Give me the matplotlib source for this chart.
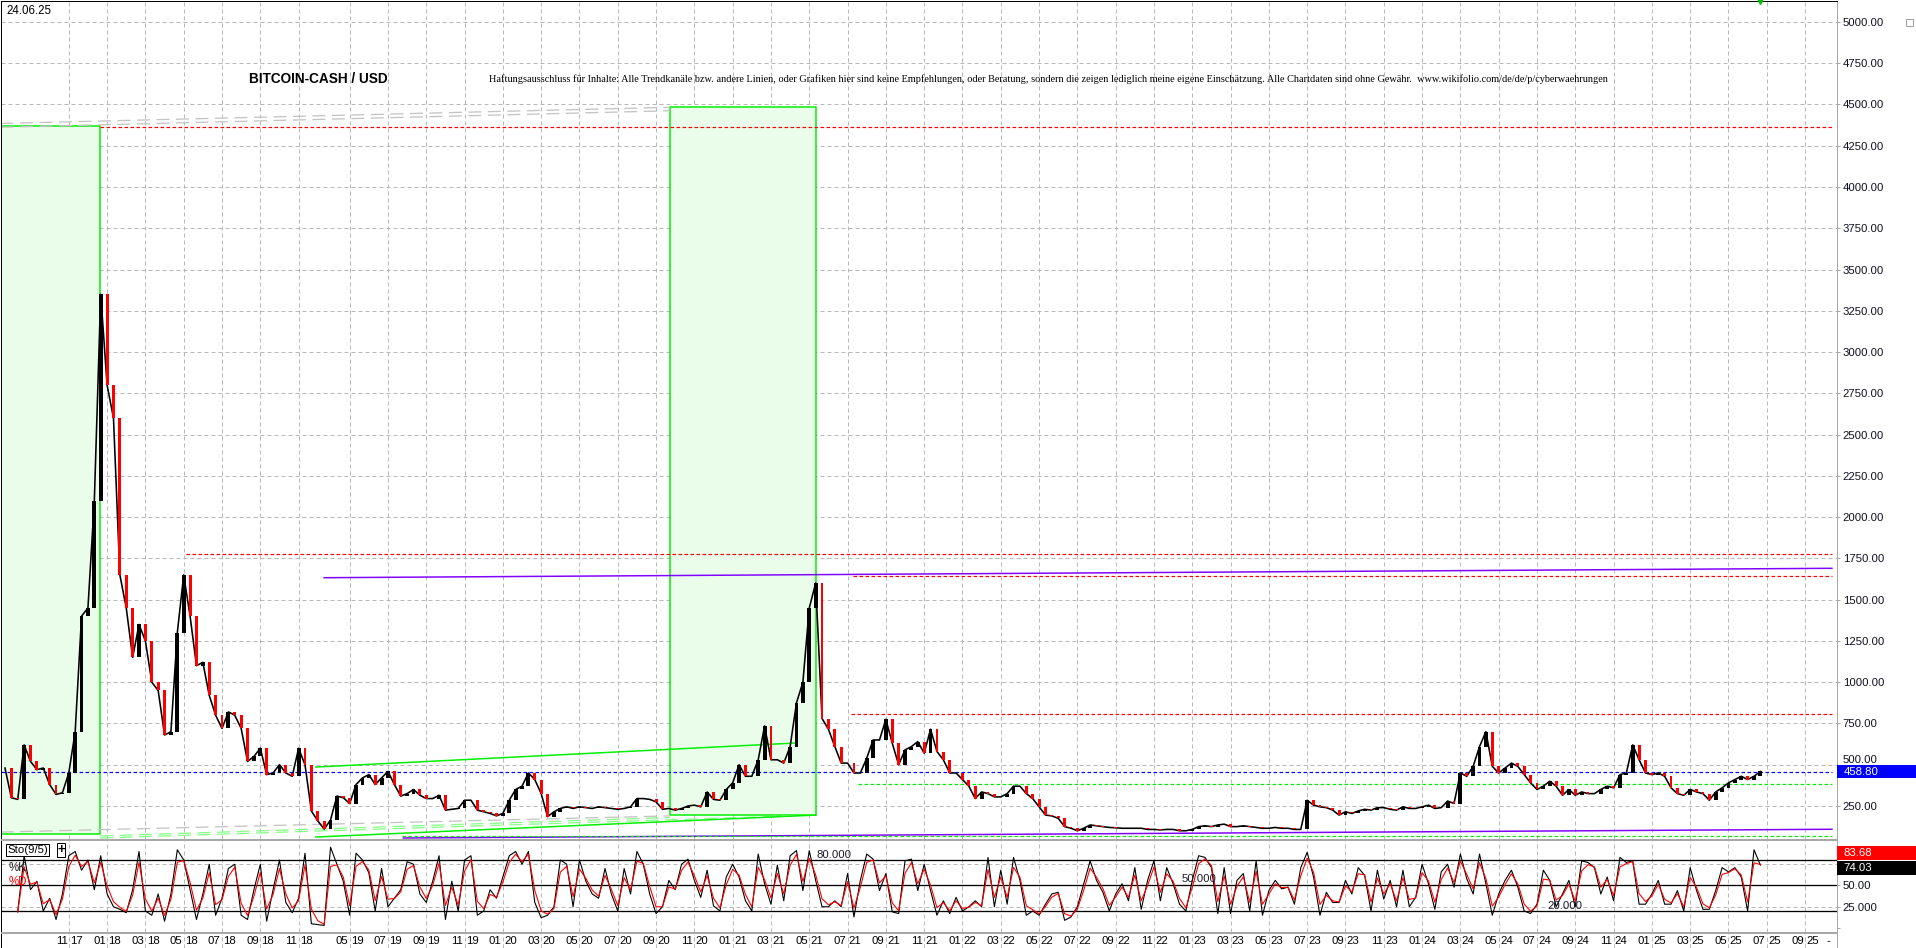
import matplotlib
matplotlib.use('Agg')
import matplotlib.pyplot as plt
import matplotlib.transforms as mtransforms
from matplotlib.patches import Rectangle
import numpy as np
import pandas as pd

plt.rcParams['font.family'] = ['Liberation Sans', 'DejaVu Sans']

# ---- data (one value per bar) ----
close = [
    480, 300, 290, 620, 520, 470, 480, 380, 320, 330,
    450, 700, 1400, 1450, 2100, 3350, 2800, 2600, 1650, 1450,
    1150, 1350, 1250, 1000, 950, 680, 700, 1300, 1650, 1400,
    1100, 1120, 920, 800, 720, 820, 800, 720, 520, 550,
    600, 440, 450, 500, 450, 430, 600, 500, 220, 160,
    110, 165, 310, 300, 265, 380, 420, 440, 380, 420,
    460, 380, 310, 325, 350, 315, 295, 295, 315, 225,
    230, 235, 285, 285, 225, 215, 205, 190, 205, 285,
    350, 370, 450, 410, 325, 185, 215, 235, 245, 235,
    245, 240, 235, 245, 240, 235, 230, 235, 245, 295,
    295, 290, 275, 230, 235, 225, 235, 250, 255, 245,
    335, 290, 285, 350, 390, 500, 430, 430, 530, 735,
    530, 530, 510, 610, 875, 1000, 1450, 1600, 780, 715,
    610, 510, 510, 450, 450, 540, 650, 650, 775, 630,
    500, 590, 610, 640, 570, 715, 580, 530, 450, 450,
    410, 370, 295, 335, 325, 305, 305, 325, 370, 370,
    325, 295, 245, 195, 190, 175, 125, 115, 100, 115,
    135, 130, 125, 120, 118, 115, 115, 115, 115, 108,
    108, 105, 108, 108, 100, 100, 108, 125, 130, 125,
    135, 140, 125, 125, 130, 125, 120, 115, 115, 120,
    115, 115, 108, 108, 285, 255, 245, 240, 225, 195,
    215, 205, 220, 230, 225, 240, 240, 230, 225, 245,
    235, 235, 245, 255, 235, 240, 280, 265, 450, 430,
    490, 610, 700, 490, 450, 480, 510, 490, 440, 390,
    350, 370, 400, 370, 315, 350, 315, 335, 325, 325,
    350, 370, 360, 440, 450, 620, 530, 450, 440, 450,
    430, 360, 325, 315, 350, 335, 325, 285, 335, 360,
    390, 410, 430, 410, 430, 459,
]

sto_k = [
    np.nan, np.nan, 19, 85, 45, 55, 20, 35, 10, 40,
    85, 90, 68, 80, 45, 85, 40, 25, 22, 18,
    45, 90, 20, 15, 40, 8, 40, 92, 80, 45,
    10, 40, 75, 15, 35, 70, 75, 15, 10, 45,
    75, 8, 45, 80, 30, 18, 35, 88, 5, 4,
    3, 95, 75, 55, 15, 88, 80, 65, 20, 70,
    25, 35, 45, 78, 75, 40, 30, 55, 85, 10,
    55, 20, 80, 85, 15, 20, 45, 35, 60, 85,
    90, 75, 90, 30, 12, 15, 25, 80, 75, 25,
    80, 55, 40, 35, 70, 40, 20, 70, 40, 90,
    75, 40, 17, 25, 56, 45, 75, 81, 56, 36,
    68, 26, 20, 60, 75, 60, 32, 20, 87, 52,
    28, 74, 32, 85, 91, 44, 91, 56, 25, 25,
    32, 25, 64, 13, 56, 87, 81, 44, 64, 19,
    17, 79, 81, 44, 75, 44, 15, 32, 17, 36,
    20, 25, 32, 25, 83, 25, 68, 28, 83, 56,
    15, 20, 15, 28, 40, 42, 9, 13, 25, 52,
    79, 56, 42, 20, 40, 52, 32, 71, 22, 56,
    79, 32, 71, 52, 28, 20, 56, 85, 83, 71,
    17, 71, 17, 56, 64, 20, 79, 15, 44, 56,
    46, 48, 28, 71, 89, 60, 15, 42, 30, 30,
    56, 40, 71, 62, 20, 68, 34, 56, 25, 68,
    25, 36, 75, 52, 22, 66, 75, 48, 87, 58,
    40, 87, 52, 15, 40, 56, 68, 48, 20, 17,
    28, 68, 56, 25, 40, 56, 25, 79, 77, 71,
    40, 60, 32, 83, 77, 79, 28, 28, 40, 56,
    28, 28, 44, 20, 71, 44, 22, 22, 44, 71,
    66, 71, 60, 20, 92, 74,
]

last_price = 458.80
last_k = 74.03
last_d = 83.68

tick_bar = [10, 16, 22, 28, 34, 40, 46,
            54, 60, 66, 72, 78, 84, 90, 96, 102, 108, 114, 120, 126, 132,
            138, 144, 150, 156, 162, 168, 174, 180, 186, 192, 198, 204, 210,
            216, 222, 228, 234, 240, 246, 252, 258, 264, 270, 276, 282]
tick_lbl = ['11|17', '01|18', '03|18', '05|18', '07|18', '09|18', '11|18',
            '05|19', '07|19', '09|19', '11|19', '01|20', '03|20', '05|20',
            '07|20', '09|20', '11|20', '01|21', '03|21', '05|21', '07|21',
            '09|21', '11|21', '01|22', '03|22', '05|22', '07|22', '09|22',
            '11|22', '01|23', '03|23', '05|23', '07|23', '09|23', '11|23',
            '01|24', '03|24', '05|24', '07|24', '09|24', '11|24', '01|25',
            '03|25', '05|25', '07|25', '09|25']

price_levels = np.arange(250, 5001, 250)

# drawn levels: (value, first bar, last bar)
red_lines = [(4362, 14.9, 286.2), (1777, 28.4, 286.2),
             (1645, 132.9, 286.2), (807, 132.5, 286.2)]
green_dotted = [(381, 133.6, 286.2), (68, 62.2, 286.2)]
# sloped lines: (bar0, v0, bar1, v1)
purple_lines = [(50.0, 1633, 286.2, 1690), (62.4, 56, 286.2, 109)]
green_channel = [(48.7, 486, 124.1, 632), (48.7, 62, 127.05, 195)]
gray_dashed = [(-0.7, 4385, 104.2, 4483), (-0.7, 4362, 104.2, 4462),
               (-0.7, 92, 104.2, 190)]
light_green_dashed = [(14.9, 56, 127.0, 195), (14.9, 68, 104.2, 180)]
# highlighted zones: (bar0, bar1, low, high)
zones = [(-0.7, 14.88, 80, 4370), (104.2, 127.05, 195, 4483)]

disclaimer = ('Haftungsausschluss für Inhalte: Alle Trendkanäle bzw. andere Linien, '
              'oder Grafiken hier sind keine Empfehlungen, oder Beratung, sondern die '
              'zeigen lediglich meine eigene Einschätzung. Alle Chartdaten sind ohne '
              'Gewähr.  www.wikifolio.com/de/de/p/cyberwaehrungen')

# ---- layout ----
W, H = 1916, 948
fig = plt.figure(figsize=(W / 100, H / 100), dpi=100)


def rect(x0, y0, x1, y1):
    return [x0 / W, 1 - y1 / H, (x1 - x0) / W, (y1 - y0) / H]


ax = fig.add_axes(rect(0.5, 0.5, 1837, 839))
sx = fig.add_axes(rect(0.5, 840, 1837, 932))
lx = fig.add_axes(rect(0.5, 933, 1837, 947.5))
XL = (-0.7, 287.0)
for a in (ax, sx, lx):
    a.set_xlim(*XL)
    a.set_xticks([])
    a.set_facecolor('white')
ax.set_ylim(50, 5130)
sx.set_ylim(-4.7, 103.5)
lx.set_ylim(0, 1)
lx.set_yticks([])

GRID = '#b8b8b8'
PX = 0.72  # one pixel in points

for a in (ax, sx, lx):
    for b in tick_bar:
        a.axvline(b, color=GRID, lw=PX, dashes=(4, 3), zorder=0)
for v in price_levels:
    ax.axhline(v, color=GRID, lw=PX, dashes=(4, 3), zorder=0)

# zones
for b0, b1, lo, hi in zones:
    ax.add_patch(Rectangle((b0, lo), b1 - b0, hi - lo, facecolor='#eafdea',
                           edgecolor='#00ee00', lw=1.5 * PX, zorder=1))

for b0, v0, b1, v1 in gray_dashed:
    ax.plot([b0, b1], [v0, v1], color='#c4c4c4', lw=1.3 * PX, dashes=(10, 5), zorder=2)
for b0, v0, b1, v1 in light_green_dashed:
    ax.plot([b0, b1], [v0, v1], color='#8cff8c', lw=1.3 * PX, dashes=(10, 5), zorder=2)
for b0, v0, b1, v1 in green_channel:
    ax.plot([b0, b1], [v0, v1], color='#00ee00', lw=1.5 * PX, zorder=3)
for b0, v0, b1, v1 in purple_lines:
    ax.plot([b0, b1], [v0, v1], color='#8000ff', lw=1.5 * PX, zorder=3)
for v, b0, b1 in red_lines:
    ax.plot([b0, b1], [v, v], color='#ff0000', lw=1.2 * PX, dashes=(3, 2), zorder=3)
for v, b0, b1 in green_dotted:
    ax.plot([b0, b1], [v, v], color='#00ee00', lw=1.2 * PX, dashes=(3, 2), zorder=3)
ax.plot([XL[0], 286.2], [last_price, last_price], color='#0000ff', lw=1.2 * PX,
        dashes=(3, 2), zorder=3)

# candles: open = previous close
bars = np.arange(len(close))
c = np.array(close, dtype=float)
o = np.concatenate([[c[0]], c[:-1]])
lo = np.minimum(o, c)
hi = np.maximum(o, c)
down = c < o
ax.plot(bars, c, color='black', lw=1.6 * PX, zorder=4)
ax.vlines(bars, lo, hi, color='black', lw=1.6 * PX, zorder=4)
ax.bar(bars[~down], (hi - lo)[~down], bottom=lo[~down], width=0.6,
       color='black', zorder=4)
ax.bar(bars[down], (hi - lo)[down], bottom=lo[down], width=0.45,
       color='#ff0000', zorder=5)

ax.plot([274.9], [1.0], marker='v', color='#00c000', ms=5,
        transform=mtransforms.blended_transform_factory(ax.transData, ax.transAxes),
        clip_on=False, zorder=6)

# stochastic
k = pd.Series(sto_k, dtype=float)
d = k.ewm(alpha=0.75, ignore_na=True).mean()
for lvl in (25, 75):
    sx.axhline(lvl, color=GRID, lw=PX, dashes=(4, 3), zorder=0)
for lvl in (20, 50, 80):
    sx.axhline(lvl, color='black', lw=1.3 * PX, zorder=1)
sx.plot(bars, k, color='black', lw=1.1 * PX, zorder=3)
sx.plot(bars, d, color='#ff0000', lw=1.1 * PX, zorder=4)
sx.text(127.2, 86, '80.000', fontsize=8.2, va='center', color='#1a1a2a', zorder=5)
sx.text(184.4, 57.6, '50.000', fontsize=8.2, va='center', color='#1a1a2a', zorder=5)
sx.text(241.7, 26.2, '20.000', fontsize=8.2, va='center', color='#1a1a2a', zorder=5)

# axes frames
for a in (ax, sx, lx):
    for s in a.spines.values():
        s.set_color('#a8a8a8')
        s.set_linewidth(PX)
    a.spines['left'].set_color('black')
ax.spines['top'].set_color('black')
lx.spines['bottom'].set_color('black')

# right-hand scales
ax.yaxis.tick_right()
ax.set_yticks(price_levels)
ax.set_yticklabels(['%.2f' % v for v in price_levels])
sx.yaxis.tick_right()
sx.set_yticks([0, 25, 50, 75])
sx.set_yticklabels(['', '25.000', '50.00', ''])
for a in (ax, sx):
    a.tick_params(axis='y', direction='out', length=3 * PX, width=PX,
                  color='#a8a8a8', labelsize=8.2, pad=2, labelcolor='#101020')
# the price box covers the lower half of the 500 label, as on the original
for t in ax.get_yticklabels():
    if t.get_text() == '500.00':
        t.set_va('bottom')

# date labels
tr = mtransforms.blended_transform_factory(lx.transData, lx.transAxes)
for b, lbl in zip(tick_bar, tick_lbl):
    mm, yy = lbl.split('|')
    lx.text(b - 0.2, 0.45, mm, ha='right', va='center', fontsize=8.2, transform=tr)
    lx.text(b + 0.2, 0.45, yy, ha='left', va='center', fontsize=8.2, transform=tr)
lx.text(285.6, 0.45, '-', ha='center', va='center', fontsize=8.2, transform=tr)

# value boxes on the right scale
bt = mtransforms.blended_transform_factory(ax.transAxes, ax.transData)
bw = (W - 1837) / 1836.5
ax.add_patch(Rectangle((1.0, last_price - 40), bw, 80, transform=bt,
                       facecolor='#0000ff', edgecolor='none', clip_on=False, zorder=10))
ax.text(1.0035, last_price, '%.2f' % last_price, transform=bt, color='white',
        fontsize=8.2, va='center', ha='left', zorder=11, clip_on=False)
st = mtransforms.blended_transform_factory(sx.transAxes, sx.transData)
for val, yc, col in ((last_d, last_d + 4.5, '#ff0000'), (last_k, last_k - 3.5, 'black')):
    sx.add_patch(Rectangle((1.0, yc - 8.2), bw, 16.4, transform=st, facecolor=col,
                           edgecolor='none', clip_on=False, zorder=10))
    sx.text(1.0035, yc, '%.2f' % val, transform=st, color='white', fontsize=8.2,
            va='center', ha='left', zorder=11, clip_on=False)

# panel texts
fig.text(6 / W, 1 - 11 / H, '24.06.25', fontsize=8.3, va='center', ha='left')
fig.text(318 / W, 1 - 79 / H, 'BITCOIN-CASH / USD', fontsize=9.8, fontweight='bold',
         va='center', ha='center')
dt = fig.text(489 / W, 1 - 79 / H, disclaimer, fontsize=8.5, va='center', ha='left',
              family='Liberation Serif')
fig.canvas.draw()
bb = dt.get_window_extent()
dt.set_fontsize(8.5 * 1108 / bb.width)

fig.text(7 / W, 1 - 850 / H, 'Sto(9/5)', fontsize=8.2, va='center', ha='left',
         bbox=dict(boxstyle='square,pad=0.1', fc='white', ec='black', lw=PX))
fig.text(61 / W, 1 - 850 / H, '+', fontsize=9.5, fontweight='bold', va='center',
         ha='center', bbox=dict(boxstyle='square,pad=0.05', fc='white', ec='black', lw=PX))
fig.text(9 / W, 1 - 868 / H, '%K', fontsize=8.3, va='center', ha='left', color='#202020')
fig.text(9 / W, 1 - 882 / H, '%D', fontsize=8.3, va='center', ha='left', color='#ff0000')
fig.patches.append(Rectangle((1906 / W, 1 - 26 / H), 7 / W, 7 / H, transform=fig.transFigure,
                             facecolor='white', edgecolor='#a0a0a0', lw=PX))

fig.savefig('out.png', dpi=100)
